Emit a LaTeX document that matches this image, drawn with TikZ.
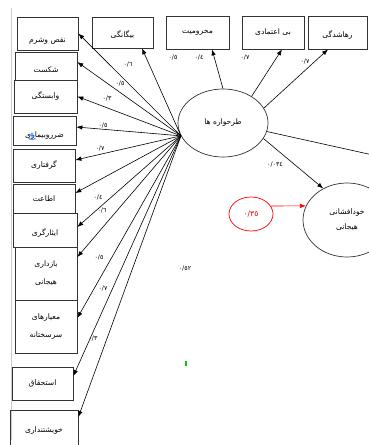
\documentclass[tikz,border=0pt]{standalone}
\usepackage{fontspec}
\usetikzlibrary{arrows.meta,shapes.geometric}
\TeXXeTstate=1
\newfontfamily\arabicfont[Script=Arabic]{DejaVu Sans}
\newfontfamily\symbfont{DejaVu Sans}
\newcommand{\fa}[1]{{\arabicfont\beginR #1\endR}}

\begin{document}
\begin{tikzpicture}[x=1pt,y=-1pt,->,>={Latex[length=6pt,width=4.5pt]},
                    line width=0.6pt,
                    box/.style={draw=black!80,-,line width=0.7pt,inner sep=1pt,
                                font=\arabicfont\fontsize{7.6}{9}\selectfont},
                    schema/.style={draw=black!80,-,ellipse,line width=0.7pt,inner sep=1pt,
                                   font=\arabicfont\fontsize{7.6}{9}\selectfont},
                    coef/.style={inner sep=0pt,font=\arabicfont\fontsize{6.3}{7}\selectfont}]
  \useasboundingbox (0,0) rectangle (368,445);
  \draw[-,black!20,line width=0.5pt] (11,8) -- (11,440);

  % left column
  \node[box,minimum width=61,minimum height=33,text height=20pt] (b1) at (47.5,33.5) {\fa{نقص وشرم}};
  \node[box,minimum width=62,minimum height=28,text height=14pt] (b2) at (46,66) {\fa{شکست}};
  \node[box,minimum width=63,minimum height=33] (b3) at (45.5,96.5) {\fa{وابستگی}};
  \node[box,minimum width=63,minimum height=29,text height=16pt] (b4) at (44.5,130.5) {\fa{ضرروبیماری}};
  \node[box,minimum width=62,minimum height=33] (b5) at (44,165.5) {\fa{گرفتاری}};
  \node[box,minimum width=62,minimum height=29] (b6) at (44,198.5) {\fa{اطاعت}};
  \node[box,minimum width=64,minimum height=34,text height=12pt] (b7) at (45,230) {\fa{ایثارگری}};
  \node[box,minimum width=62,minimum height=53,align=center] (b8) at (46,273.5) {\fa{بازداری}\\[9pt]\fa{هیجانی}};
  \node[box,minimum width=62,minimum height=53,align=center] (b9) at (46,326.5) {\fa{معیارهای}\\[9pt]\fa{سرسختانه}};
  \node[box,minimum width=61,minimum height=33] (b10) at (42.5,383.5) {\fa{استحقاق}};
  \node[box,minimum width=68,minimum height=40,text height=6pt] (b11) at (44,430) {\fa{خویشتنداری}};
  \node[inner sep=0pt,text=blue!60!cyan,font=\symbfont\fontsize{10}{10}\selectfont] (anc) at (32,137) {⚓};

  % top row
  \node[box,minimum width=61,minimum height=31,text height=12pt] (t1) at (122.5,32.5) {\fa{بیگانگی}};
  \node[box,minimum width=63,minimum height=33] (t2) at (197.5,32.5) {\fa{محرومیت}};
  \node[box,minimum width=62,minimum height=33] (t3) at (273,32.5) {\fa{بی اعتمادی}};
  \node[box,minimum width=59,minimum height=33,text height=12pt] (t4) at (337.5,32.5) {\fa{رهاشدگی}};

  % schemas and outcome
  \node[schema,minimum width=90,minimum height=68] (schm) at (223,123) {\fa{طرحواره ها}};
  \node[schema,minimum width=88,minimum height=74,align=center] (disc) at (347,220) {\fa{خودافشانی}\\[6pt]\fa{هیجانی}};
  \node[schema,draw=red,text=red,minimum width=44,minimum height=34] (err) at (251,214) {٠/٣٥};
  \coordinate (hub) at (schm.197);
  \coordinate (rout) at (400,161);

  \path (hub) edge (b1.east)
              edge ([yshift=4pt]b2.east)
              edge (b3.east)
              edge ([yshift=3.5pt]b4.east)
              edge ([yshift=5.5pt]b5.east)
              edge ([yshift=5.5pt]b6.east)
              edge ([yshift=3pt]b7.east)
              edge ([yshift=16.5pt]b8.east)
              edge ([yshift=8.5pt]b9.east)
              edge ([yshift=7.5pt]b10.east)
              edge ([yshift=13pt]b11.east)
              edge ([xshift=19.5pt]t1.south)
        (schm.north) edge ([xshift=14.5pt]t2.south)
        (schm.43) edge ([xshift=9pt]t3.south)
        (schm.20) edge ([xshift=-9.5pt]t4.south)
        (schm.-21) edge (disc.127)
        (schm.-11) edge[-] (rout);
  \draw[red] (err.22) -- (disc.161);

  % coefficients
  \node[coef] (c1) at (173,57) {٠/٥};
  \node[coef] (c2) at (199,57) {٠/٤};
  \node[coef] (c3) at (245,57) {٠/٧};
  \node[coef] (c4) at (305,61) {٠/٧};
  \node[coef] (c5) at (128,64) {٠/٦};
  \node[coef] (c6) at (120,83) {٠/٥};
  \node[coef] (c7) at (107,98) {٠/٣};
  \node[coef] (c8) at (103,125) {٠/٥};
  \node[coef] (c9) at (100,148) {٠/٧};
  \node[coef] (c10) at (98,197) {٠/٤};
  \node[coef] (c11) at (102,210) {٠/٦};
  \node[coef] (c12) at (99,257) {٠/٥};
  \node[coef] (c13) at (103,288) {٠/٧};
  \node[coef] (c14) at (93,338) {٠/٣};
  \node[coef] (c15) at (275,164) {٠/٠٣٤};
  \node[coef] (c16) at (185,268) {٠/٥٢};
  \fill[-,green!80!black] (185,361) rectangle (187,366);
\end{tikzpicture}
\end{document}
